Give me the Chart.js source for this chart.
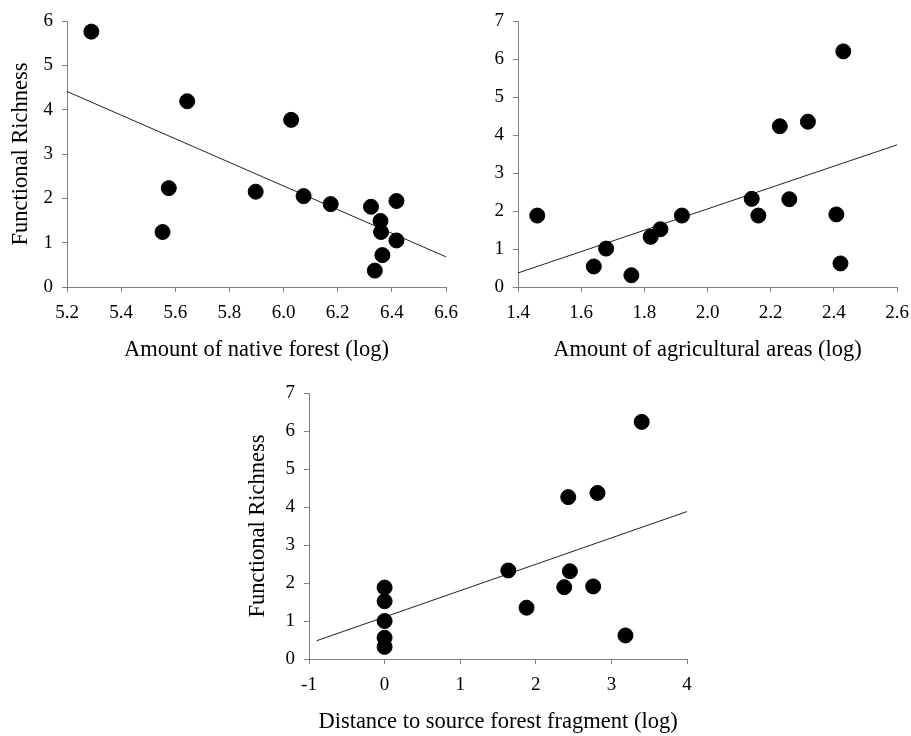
<!DOCTYPE html>
<html lang="en">

<head>
    <meta charset="UTF-8">
    <title>Functional Richness</title>
    <script src="https://cdn.jsdelivr.net/npm/chart.js"></script>
    <style>
        body {
            margin: 0;
            background-color: #ffffff;
        }

        .panel {
            position: absolute;
        }
    </style>
</head>

<body>
    <div class="panel" style="left:0;top:0;width:470px;height:370px"><canvas id="chart-forest"></canvas></div>
    <div class="panel" style="left:455px;top:0;width:456px;height:370px"><canvas id="chart-agri"></canvas></div>
    <div class="panel" style="left:230px;top:370px;width:500px;height:366px"><canvas id="chart-dist"></canvas></div>

    <script>
        // native forest (log) vs functional richness
        const forestX = [5.29, 5.644, 6.028, 5.576, 5.897, 5.553, 6.074, 6.174, 6.323, 6.417, 6.358, 6.36, 6.417, 6.365, 6.337];
        const forestY = [5.76, 4.19, 3.77, 2.23, 2.15, 1.24, 2.05, 1.87, 1.81, 1.94, 1.49, 1.24, 1.05, 0.72, 0.37];
        const forestFit = [[5.2, 4.41], [6.6, 0.68]];

        // agricultural areas (log)
        const agriX = [1.461, 1.64, 1.679, 1.759, 1.82, 1.851, 1.919, 2.14, 2.161, 2.229, 2.259, 2.318, 2.408, 2.43, 2.421];
        const agriY = [1.88, 0.54, 1.01, 0.31, 1.32, 1.52, 1.88, 2.32, 1.88, 4.23, 2.31, 4.35, 1.91, 6.20, 0.62];
        const agriFit = [[1.4, 0.37], [2.6, 3.74]];

        // distance to source fragment (log)
        const distX = [0, 0, 0, 0, 0, 1.636, 1.878, 2.376, 2.429, 2.451, 2.759, 2.816, 3.186, 3.401];
        const distY = [1.88, 1.52, 1.0, 0.56, 0.32, 2.33, 1.35, 1.89, 4.26, 2.31, 1.91, 4.37, 0.62, 6.24];
        const distFit = [[-0.9, 0.48], [4, 3.88]];

        const serif = 'Liberation Serif, "Times New Roman", serif';
        const axisGray = '#808080';

        function toPoints(xs, ys) {
            return xs.map((x, i) => ({ x: x, y: ys[i] }));
        }

        // builds one scatter panel; sizes fix the plot area inside the canvas
        function makePanel(id, cfg) {
            const ctx = document.getElementById(id).getContext('2d');
            return new Chart(ctx, {
                type: 'scatter',
                data: {
                    datasets: [{
                        data: toPoints(cfg.xs, cfg.ys),
                        backgroundColor: '#000',
                        borderColor: '#000',
                        pointRadius: 7.5,
                        pointHoverRadius: 7.5
                    }, {
                        type: 'line',
                        data: cfg.fit.map(p => ({ x: p[0], y: p[1] })),
                        borderColor: '#222',
                        borderWidth: 1,
                        pointRadius: 0,
                        fill: false
                    }]
                },
                options: {
                    responsive: true,
                    maintainAspectRatio: false,
                    animation: false,
                    layout: { padding: cfg.pad },
                    plugins: {
                        legend: { display: false },
                        tooltip: { enabled: false }
                    },
                    scales: {
                        x: {
                            type: 'linear',
                            min: cfg.xMin,
                            max: cfg.xMax,
                            afterBuildTicks: s => { s.ticks = cfg.xTicks.map(v => ({ value: v })); },
                            afterFit: s => {
                                s.height = cfg.xH;
                                // end labels may hang past the axis, keep the plot width fixed
                                s.paddingLeft = 0;
                                s.paddingRight = 0;
                            },
                            grid: { drawOnChartArea: false, tickLength: 5, color: axisGray },
                            border: { color: axisGray },
                            ticks: {
                                color: '#000',
                                padding: 10,
                                maxRotation: 0,
                                font: { family: serif, size: 19 },
                                callback: v => cfg.xFmt(v)
                            },
                            title: {
                                display: true,
                                text: cfg.xTitle,
                                color: '#000',
                                font: { family: serif, size: 22.5 },
                                padding: { top: 0, bottom: cfg.xTitlePad }
                            }
                        },
                        y: {
                            min: 0,
                            max: cfg.yMax,
                            afterBuildTicks: s => { s.ticks = cfg.yTicks.map(v => ({ value: v })); },
                            afterFit: s => {
                                s.width = cfg.yW;
                                s.paddingTop = 0;
                                s.paddingBottom = 0;
                            },
                            grid: { drawOnChartArea: false, tickLength: 5, color: axisGray },
                            border: { color: axisGray },
                            ticks: {
                                color: '#000',
                                padding: 9,
                                font: { family: serif, size: 19 }
                            },
                            title: {
                                display: cfg.yTitle !== '',
                                text: cfg.yTitle,
                                color: '#000',
                                font: { family: serif, size: 22.5 },
                                padding: { top: cfg.yTitlePad, bottom: 0 }
                            }
                        }
                    }
                }
            });
        }

        makePanel('chart-forest', {
            xs: forestX, ys: forestY, fit: forestFit,
            xMin: 5.2, xMax: 6.6, xTicks: [5.2, 5.4, 5.6, 5.8, 6.0, 6.2, 6.4, 6.6],
            xFmt: v => v.toFixed(1),
            yMax: 6, yTicks: [0, 1, 2, 3, 4, 5, 6],
            xTitle: 'Amount of native forest (log)', yTitle: 'Functional Richness',
            pad: { top: 21, right: 24, bottom: 0, left: 0 },
            xH: 83, yW: 67, xTitlePad: 6.5, yTitlePad: 8
        });

        makePanel('chart-agri', {
            xs: agriX, ys: agriY, fit: agriFit,
            xMin: 1.4, xMax: 2.6, xTicks: [1.4, 1.6, 1.8, 2.0, 2.2, 2.4, 2.6],
            xFmt: v => v.toFixed(1),
            yMax: 7, yTicks: [0, 1, 2, 3, 4, 5, 6, 7],
            xTitle: 'Amount of agricultural areas (log)', yTitle: '',
            pad: { top: 21, right: 14, bottom: 0, left: 0 },
            xH: 83, yW: 63, xTitlePad: 6.5, yTitlePad: 0
        });

        makePanel('chart-dist', {
            xs: distX, ys: distY, fit: distFit,
            xMin: -1, xMax: 4, xTicks: [-1, 0, 1, 2, 3, 4],
            xFmt: v => String(v),
            yMax: 7, yTicks: [0, 1, 2, 3, 4, 5, 6, 7],
            xTitle: 'Distance to source forest fragment (log)', yTitle: 'Functional Richness',
            pad: { top: 23, right: 43, bottom: 0, left: 0 },
            xH: 77, yW: 79, xTitlePad: 0, yTitlePad: 14.5
        });
    </script>
</body>

</html>
